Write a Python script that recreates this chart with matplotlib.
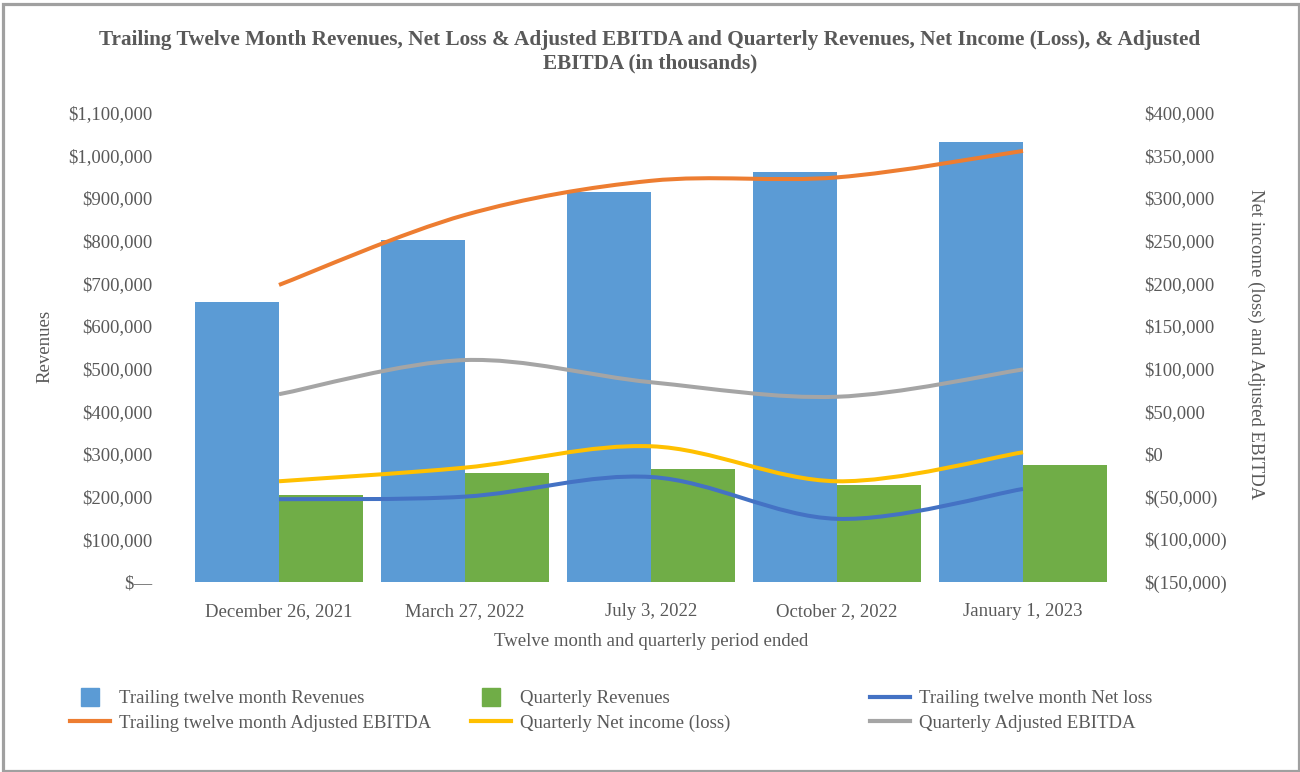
import matplotlib
matplotlib.use("Agg")
import matplotlib.pyplot as plt
from matplotlib.path import Path
from matplotlib.patches import PathPatch, Rectangle
from matplotlib.lines import Line2D
from matplotlib.ticker import FuncFormatter, MultipleLocator
import numpy as np

plt.rcParams["font.family"] = ["Liberation Serif", "DejaVu Serif"]

# ---------------- data ----------------
categories = ["December 26, 2021", "March 27, 2022", "July 3, 2022",
              "October 2, 2022", "January 1, 2023"]
ttm_revenues = [657000, 801000, 913000, 960000, 1030000]
quarterly_revenues = [203000, 255000, 264000, 227000, 273000]
ttm_net_loss = [-53000, -50000, -27000, -76000, -41000]
ttm_adj_ebitda = [198000, 280000, 320000, 324000, 355000]
quarterly_net_income = [-32000, -16000, 9000, -32000, 2000]
quarterly_adj_ebitda = [70000, 110000, 84000, 67000, 99000]

title = ("Trailing Twelve Month Revenues, Net Loss & Adjusted EBITDA and Quarterly Revenues, "
         "Net Income (Loss), & Adjusted\nEBITDA (in thousands)")
left_label = "Revenues"
right_label = "Net income (loss) and Adjusted EBITDA"
x_label = "Twelve month and quarterly period ended"

C_TTM_REV = "#5B9BD5"
C_Q_REV = "#70AD47"
C_TTM_NET = "#4472C4"
C_TTM_ADJ = "#ED7D31"
C_Q_NET = "#FFC000"
C_Q_ADJ = "#A5A5A5"
TXT = "#595959"
FS = 13.5

W, H = 1300, 772
fig = plt.figure(figsize=(W / 100, H / 100), dpi=100)

ax_l, ax_r, ax_t, ax_b = 186, 1116, 112.5, 582
ax = fig.add_axes([ax_l / W, 1 - ax_b / H, (ax_r - ax_l) / W, (ax_b - ax_t) / H])
ax2 = ax.twinx()

x = np.arange(len(categories))
bw = 84 / 186
ax.bar(x - bw / 2, ttm_revenues, bw, color=C_TTM_REV, zorder=2)
ax.bar(x + bw / 2, quarterly_revenues, bw, color=C_Q_REV, zorder=2)


def smooth_path(xs, ys):
    pts = np.column_stack([xs, ys]).astype(float)
    n = len(pts)
    verts = [pts[0]]
    codes = [Path.MOVETO]
    for i in range(n - 1):
        p0 = pts[i - 1] if i > 0 else pts[i]
        p1 = pts[i]
        p2 = pts[i + 1]
        p3 = pts[i + 2] if i + 2 < n else pts[i + 1]
        c1 = p1 + (p2 - p0) / 6.0
        c2 = p2 - (p3 - p1) / 6.0
        verts += [c1, c2, p2]
        codes += [Path.CURVE4] * 3
    return Path(verts, codes)


lw = 2.9
for series, col in [(quarterly_adj_ebitda, C_Q_ADJ), (ttm_adj_ebitda, C_TTM_ADJ),
                    (quarterly_net_income, C_Q_NET), (ttm_net_loss, C_TTM_NET)]:
    p = PathPatch(smooth_path(x, series), fill=False, edgecolor=col, lw=lw,
                  capstyle="butt", zorder=3)
    ax2.add_patch(p)

ax.set_xlim(-0.5, 4.5)
ax.set_ylim(0, 1100000)
ax2.set_ylim(-150000, 400000)
ax.yaxis.set_major_locator(MultipleLocator(100000))
ax2.yaxis.set_major_locator(MultipleLocator(50000))


def fmt_left(v, pos):
    if abs(v) < 1:
        return "$\u2014"
    return "${:,.0f}".format(v)


def fmt_right(v, pos):
    if abs(v) < 1:
        return "$0"
    if v < 0:
        return "$({:,.0f})".format(-v)
    return "${:,.0f}".format(v)


ax.yaxis.set_major_formatter(FuncFormatter(fmt_left))
ax2.yaxis.set_major_formatter(FuncFormatter(fmt_right))
ax.set_xticks(x)
ax.set_xticklabels(categories)

for a in (ax, ax2):
    for s in a.spines.values():
        s.set_visible(False)
    a.set_facecolor("none")
ax.tick_params(axis="y", length=0, pad=24, labelsize=FS, labelcolor=TXT)
ax2.tick_params(axis="y", length=0, pad=20, labelsize=FS, labelcolor=TXT)
ax.tick_params(axis="x", length=0, pad=15, labelsize=FS, labelcolor=TXT)

fig.text(650 / W, 1 - 52 / H, title, ha="center", va="center", fontsize=15.3,
         fontweight="bold", color=TXT, linespacing=1.22)
fig.text(651 / W, 1 - 641 / H, x_label, ha="center", va="center", fontsize=FS, color=TXT)
fig.text(45 / W, 1 - 346 / H, left_label, ha="center", va="center", fontsize=FS,
         color=TXT, rotation=90)
fig.text(1256 / W, 1 - 344 / H, right_label, ha="center", va="center", fontsize=FS,
         color=TXT, rotation=270)

# legend (three columns placed like the original)
def sq(c):
    return Line2D([], [], marker="s", ls="none", markersize=13, color=c)


def ln(c):
    return Line2D([], [], lw=3, color=c)


cols = [
    (70, [sq(C_TTM_REV), ln(C_TTM_ADJ)],
     ["Trailing twelve month Revenues", "Trailing twelve month Adjusted EBITDA"]),
    (471, [sq(C_Q_REV), ln(C_Q_NET)],
     ["Quarterly Revenues", "Quarterly Net income (loss)"]),
    (870, [ln(C_TTM_NET), ln(C_Q_ADJ)],
     ["Trailing twelve month Net loss", "Quarterly Adjusted EBITDA"]),
]
for xpx, hs, ls in cols:
    leg = fig.legend(hs, ls, loc="upper left", bbox_to_anchor=(xpx / W, 1 - 690 / H),
                     frameon=False, borderpad=0, borderaxespad=0, handlelength=2.15,
                     handletextpad=0.45, labelspacing=0.4, fontsize=FS)
    for t in leg.get_texts():
        t.set_color(TXT)

# outer border
fig.patches.append(Rectangle((3.2 / W, 1.5 / H), (1298.5 - 3.2) / W, (769.5 - 3.2) / H,
                             transform=fig.transFigure, fill=False,
                             edgecolor="#A0A0A0", lw=2.3, zorder=10))

fig.savefig("out.png", dpi=100)
